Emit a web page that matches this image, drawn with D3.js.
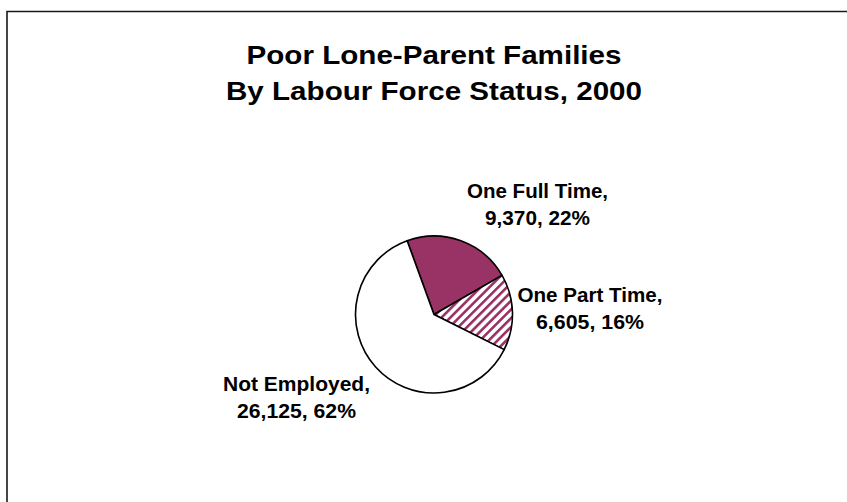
<!DOCTYPE html>
<html>
<head>
<meta charset="utf-8">
<script src="https://cdn.jsdelivr.net/npm/d3@7"></script>
<style>
  html, body { margin: 0; padding: 0; background: #fff; }
  svg { display: block; }
  text { font-family: "Liberation Sans", Arial, Helvetica, sans-serif; font-weight: bold; fill: #000; }
</style>
</head>
<body>
<svg id="chart" width="847" height="502"></svg>
<script>
// Poor lone-parent families by labour force status, 2000
const categories = ["One Full Time", "One Part Time", "Not Employed"];
const values = [9370, 6605, 26125];
const titleLines = ["Poor Lone-Parent Families", "By Labour Force Status, 2000"];

// Layout
const W = 847, H = 502;
const cx = 434, cy = 314.5, radius = 78.5;
const startDeg = -20;
const plum = "#993366";
// label block: centre x, first baseline, widths of the two lines
const labelLayout = [
  { x: 537.5, y: 198, w: [141, 105] },
  { x: 590,   y: 302, w: [145, 108] },
  { x: 296.5, y: 391, w: [147, 119] }
];
const lineGap = 27;

const svg = d3.select("#chart");

// chart frame
svg.append("path")
  .attr("d", `M7,${H} V11.5 H${W}`)
  .attr("fill", "none")
  .attr("stroke", "#1a1a1a")
  .attr("stroke-width", 1.6);

// title
const titleY = [64, 99.5];
const titleW = [375, 416];
titleLines.forEach((t, i) => {
  svg.append("text")
    .attr("x", cx).attr("y", titleY[i])
    .attr("text-anchor", "middle")
    .attr("textLength", titleW[i])
    .attr("lengthAdjust", "spacingAndGlyphs")
    .style("font-size", "26px")
    .text(t);
});

// diagonal stripe pattern for the part-time slice
const defs = svg.append("defs");
const period = 6.2;
const pat = defs.append("pattern")
  .attr("id", "stripes")
  .attr("patternUnits", "userSpaceOnUse")
  .attr("width", period).attr("height", period)
  .attr("patternTransform", "rotate(45)");
pat.append("rect").attr("width", period).attr("height", period).attr("fill", "#fff");
pat.append("rect").attr("x", 0).attr("width", 2.6).attr("height", period).attr("fill", plum);

const fills = [plum, "url(#stripes)", "#fff"];

const total = d3.sum(values);
const pie = d3.pie().sort(null)
  .startAngle(startDeg * Math.PI / 180)
  .endAngle(startDeg * Math.PI / 180 + 2 * Math.PI);
const arc = d3.arc().innerRadius(0).outerRadius(radius);

const slices = pie(values);
const g = svg.append("g").attr("transform", `translate(${cx},${cy})`);
g.selectAll("path.slice")
  .data(slices)
  .join("path")
  .attr("class", "slice")
  .attr("d", arc)
  .attr("fill", (d, i) => fills[i])
  .attr("stroke", "#000")
  .attr("stroke-width", 1.6)
  .attr("stroke-linejoin", "round");

// data labels: "Category," / "value, pct%"
const fmt = d3.format(",");
slices.forEach((d, i) => {
  const L = labelLayout[i];
  const pct = Math.round(d.value / total * 100);
  const lines = [categories[i] + ",", `${fmt(d.value)}, ${pct}%`];
  lines.forEach((t, j) => {
    svg.append("text")
      .attr("x", L.x).attr("y", L.y + j * lineGap)
      .attr("text-anchor", "middle")
      .attr("textLength", L.w[j])
      .attr("lengthAdjust", "spacingAndGlyphs")
      .style("font-size", "20px")
      .text(t);
  });
});
</script>
</body>
</html>
